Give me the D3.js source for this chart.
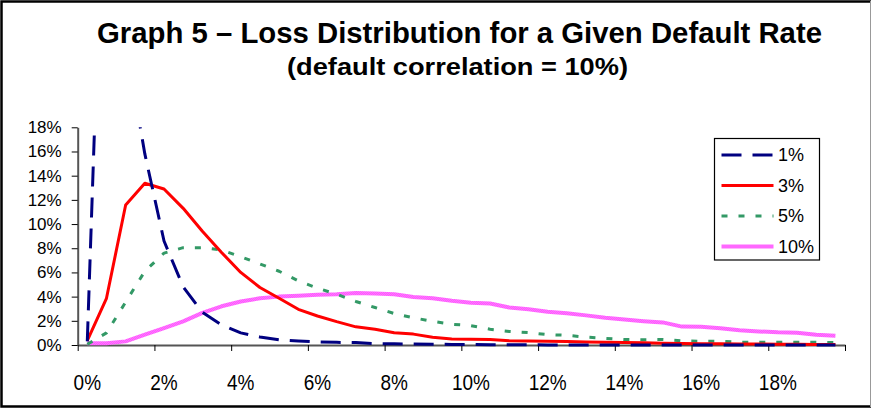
<!DOCTYPE html>
<html>
<head>
<meta charset="utf-8">
<script src="https://cdn.jsdelivr.net/npm/d3@7"></script>
<style>
  body { margin: 0; background: #fff; }
  svg text { font-family: Arial, "Liberation Sans", sans-serif; fill: #000; }
</style>
</head>
<body>
<svg id="graf" width="874" height="410"></svg>
<script>
// Datos (valores en %)
// categorías: tasa de pérdida en pasos de 0,5%
var categorias = [0, 0.5, 1, 1.5, 2, 2.5, 3, 3.5, 4, 4.5, 5, 5.5, 6, 6.5, 7, 7.5, 8, 8.5, 9, 9.5,
  10, 10.5, 11, 11.5, 12, 12.5, 13, 13.5, 14, 14.5, 15, 15.5, 16, 16.5, 17, 17.5, 18, 18.5, 19, 19.5];

var etiquetasX = ["0%", "2%", "4%", "6%", "8%", "10%", "12%", "14%", "16%", "18%"];
var ticksY = [0, 2, 4, 6, 8, 10, 12, 14, 16, 18];

var serie1 = [0.3, 47, 25, 15.8, 8.6, 4.8, 2.7, 1.65, 1.0, 0.66, 0.43, 0.33, 0.25, 0.22, 0.2, 0.12, 0.1, 0.08, 0.06, 0.05,
  0.04, 0.03, 0.02, 0.02, 0.01, 0.01, 0.01, 0.01, 0, 0, 0, 0, 0, 0, 0, 0, 0, 0, 0, 0];
var serie3 = [0.36, 3.86, 11.58, 13.37, 12.9, 11.3, 9.4, 7.65, 6.0, 4.75, 3.86, 2.95, 2.4, 1.93, 1.5, 1.3, 1.02, 0.9, 0.64, 0.5,
  0.47, 0.45, 0.36, 0.33, 0.3, 0.28, 0.25, 0.22, 0.2, 0.18, 0.15, 0.12, 0.1, 0.1, 0.08, 0.08, 0.07, 0.06, 0.05, 0.05];
var serie5 = [0.05, 1.0, 3.55, 6.1, 7.6, 8.05, 8.05, 7.85, 7.3, 6.7, 6.1, 5.3, 4.7, 4.2, 3.6, 3.1, 2.6, 2.25, 1.95, 1.72,
  1.6, 1.3, 1.12, 1.02, 0.86, 0.8, 0.65, 0.55, 0.45, 0.44, 0.45, 0.34, 0.3, 0.3, 0.23, 0.22, 0.22, 0.22, 0.22, 0.2];
var serie10 = [0.15, 0.15, 0.3, 0.85, 1.4, 1.95, 2.65, 3.2, 3.6, 3.86, 4.0, 4.08, 4.16, 4.2, 4.3, 4.25, 4.2, 3.97, 3.86, 3.65,
  3.5, 3.43, 3.1, 2.95, 2.75, 2.62, 2.45, 2.25, 2.1, 1.97, 1.87, 1.52, 1.5, 1.38, 1.22, 1.12, 1.05, 1.02, 0.85, 0.77];

var nombres = ["1%", "3%", "5%", "10%"];

// Área total
var svg = d3.select("#graf");
var margins = { top: 127.3, left: 77.7, right: 29, bottom: 65 };
var ancho = 874 - margins.left - margins.right;
var alto = 410 - margins.top - margins.bottom;

// borde del gráfico
svg.append("path")
  .attr("d", "M871,406.5 L1.5,406.5 L1.5,1.5 L871,1.5")
  .attr("fill", "none").attr("stroke", "#000").attr("stroke-width", 2.5);
svg.append("line")
  .attr("x1", 870.5).attr("x2", 870.5).attr("y1", 1).attr("y2", 407)
  .attr("stroke", "#999").attr("stroke-width", 1);

// patrón para la serie 10%
var defs = svg.append("defs");
var pat = defs.append("pattern").attr("id", "cuadros")
  .attr("patternUnits", "userSpaceOnUse").attr("width", 2).attr("height", 2);
pat.append("rect").attr("width", 2).attr("height", 2).attr("fill", "#ffd0ff");
pat.append("rect").attr("width", 1).attr("height", 1).attr("fill", "#ff00ff");
pat.append("rect").attr("x", 1).attr("y", 1).attr("width", 1).attr("height", 1).attr("fill", "#ff00ff");

defs.append("clipPath").attr("id", "recorte")
  .append("rect").attr("x", 0).attr("y", 0).attr("width", ancho).attr("height", alto + 4);

// Títulos
svg.append("text")
  .attr("x", 459.5).attr("y", 43)
  .attr("text-anchor", "middle")
  .style("font-size", "29px").style("font-weight", "bold")
  .attr("textLength", 725).attr("lengthAdjust", "spacingAndGlyphs")
  .text("Graph 5 \u2013 Loss Distribution for a Given Default Rate");
svg.append("text")
  .attr("x", 457.5).attr("y", 75)
  .attr("text-anchor", "middle")
  .style("font-size", "23px").style("font-weight", "bold")
  .attr("textLength", 341).attr("lengthAdjust", "spacingAndGlyphs")
  .text("(default correlation = 10%)");

var g = svg.append("g")
  .attr("transform", `translate(${margins.left}, ${margins.top})`);

// Escaladores
var x = d3.scaleBand().domain(categorias).range([0, ancho]).padding(0);
var xLin = d3.scaleLinear().domain([0, categorias.length]).range([0, ancho]);
var y = d3.scaleLinear().domain([0, 18]).range([alto, 0]);
var cx = (d, i) => x(categorias[i]) + x.bandwidth() / 2;

// Ejes
var yAxis = g.append("g").attr("class", "ejes")
  .call(d3.axisLeft(y).tickValues(ticksY).tickFormat(d => d + "%").tickSize(6).tickSizeOuter(0).tickPadding(10));
yAxis.selectAll("text").style("font-size", "17px");

var xTicks = g.append("g").attr("class", "ejes")
  .attr("transform", `translate(0, ${alto})`)
  .call(d3.axisBottom(xLin).tickValues(d3.range(0, categorias.length + 1, 4)).tickFormat("").tickSize(6).tickSizeOuter(0));

var xLabels = g.append("g").attr("class", "ejes")
  .attr("transform", `translate(0, ${alto})`)
  .call(d3.axisBottom(x)
    .tickValues(categorias.filter((c, i) => i % 4 == 0))
    .tickFormat((d, i) => etiquetasX[i])
    .tickSize(0).tickPadding(0));
xLabels.select(".domain").remove();
// las etiquetas del eje X se ven algo estiradas en vertical
xLabels.selectAll("text")
  .style("font-size", "19px")
  .attr("dy", "0")
  .attr("y", 0)
  .attr("transform", "translate(0, 45) scale(1, 1.2)");

g.selectAll(".ejes .domain").attr("stroke", "#555").attr("stroke-width", 2);
g.selectAll(".ejes .tick line").attr("stroke", "#000").attr("stroke-width", 1);

// Líneas
var lineaGen = d3.line()
  .x((d, i) => cx(d, i))
  .y(d => y(d));

var estilos = [
  { datos: serie1, color: "#000080", ancho: 3, dash: "20,11" },
  { datos: serie3, color: "#ff0000", ancho: 3, dash: null },
  { datos: serie5, color: "#339966", ancho: 3, dash: "6,11" },
  { datos: serie10, color: "url(#cuadros)", ancho: 4, dash: null }
];

var lineas = g.append("g").attr("clip-path", "url(#recorte)");
estilos.slice().reverse().forEach(function (s) {
  lineas.append("path")
    .attr("fill", "none")
    .attr("stroke", s.color)
    .attr("stroke-width", s.ancho)
    .attr("stroke-linejoin", "round")
    .style("stroke-dasharray", s.dash)
    .attr("d", lineaGen(s.datos));
});

// Leyenda
var leyenda = svg.append("g").attr("transform", "translate(714.5, 138.5)");
leyenda.append("rect")
  .attr("width", 105).attr("height", 121.5)
  .attr("fill", "#fff").attr("stroke", "#000").attr("stroke-width", 1.2);
estilos.forEach(function (s, i) {
  var yy = 16.5 + i * 30.5;
  leyenda.append("line")
    .attr("x1", 7).attr("x2", 59).attr("y1", yy).attr("y2", yy)
    .attr("stroke", s.color).attr("stroke-width", s.ancho)
    .style("stroke-dasharray", s.dash);
  leyenda.append("text")
    .attr("x", 63.5).attr("y", yy).attr("dy", "0.36em")
    .style("font-size", "18px")
    .text(nombres[i]);
});
</script>
</body>
</html>
